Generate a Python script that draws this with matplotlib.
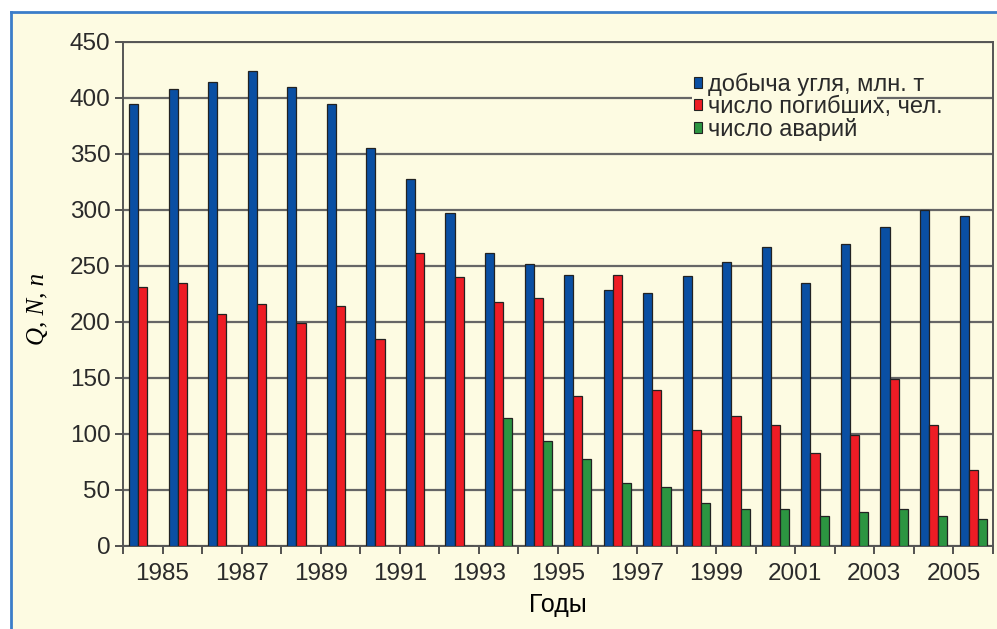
import numpy as np
import matplotlib
matplotlib.use('Agg')
import matplotlib.pyplot as plt
from matplotlib.patches import Rectangle

# coal output, fatalities and accidents per year (22 groups)
coal = [395, 408, 414, 424, 410, 395, 355, 328, 297, 262, 252,
        242, 229, 226, 241, 254, 267, 235, 270, 285, 300, 295]
deaths = [231, 235, 207, 216, 199, 214, 185, 262, 240, 218, 221,
          134, 242, 139, 104, 116, 108, 83, 99, 149, 108, 68]
accidents = [0, 0, 0, 0, 0, 0, 0, 0, 0, 114, 94,
             78, 56, 53, 38, 33, 33, 27, 30, 33, 27, 24]
tick_years = ['1985', '1987', '1989', '1991', '1993', '1995',
              '1997', '1999', '2001', '2003', '2005']
series_names = ['добыча угля, млн. т', 'число погибших, чел.', 'число аварий']

bg = '#FDFBE2'
txt = '#2a2a2a'
plt.rcParams['font.family'] = ['Liberation Sans', 'DejaVu Sans']
plt.rcParams['text.color'] = txt
plt.rcParams['xtick.color'] = '#444444'
plt.rcParams['ytick.color'] = '#444444'
plt.rcParams['xtick.labelcolor'] = txt
plt.rcParams['ytick.labelcolor'] = txt

W, H = 997, 629
fig = plt.figure(figsize=(W / 100, H / 100), dpi=100)
fig.patch.set_facecolor('white')

# cream panel with blue frame on top and left
fig.add_artist(Rectangle((11 / W, 0), 1, 1 - 12 / H, transform=fig.transFigure,
                         facecolor=bg, edgecolor='none', zorder=-10))
fig.add_artist(plt.Line2D([11 / W, 1], [1 - 12 / H, 1 - 12 / H], color='#3B7DC9', lw=2, zorder=-5))
fig.add_artist(plt.Line2D([11 / W, 11 / W], [0, 1 - 12 / H], color='#3B7DC9', lw=2, zorder=-5))

left, right, top, bottom = 123, 993, 42, 546
ax = fig.add_axes([left / W, 1 - bottom / H, (right - left) / W, (bottom - top) / H])
ax.set_facecolor(bg)

n = len(coal)
x = np.arange(n) + 0.5
bw = 0.23
colors = ['#0A4FA3', '#EE1C25', '#2C9541']
for k, (vals, c, name) in enumerate(zip([coal, deaths, accidents], colors, series_names)):
    ax.bar(x + (k - 1) * bw, vals, width=bw, color=c, edgecolor='#222222',
           linewidth=0.9, label=name, zorder=3)

ax.set_xlim(0, n)
ax.set_ylim(0, 450)
ax.set_yticks(np.arange(0, 451, 50))
ax.set_xticks(np.arange(0, n + 1))
ax.set_xticklabels([''] + [tick_years[(i - 1) // 2] if i % 2 == 1 else '' for i in range(1, n + 1)])
ax.tick_params(axis='both', labelsize=17.5, length=6, width=1.3, direction='out')
ax.tick_params(axis='x', pad=6)
ax.tick_params(axis='y', pad=3)

ax.yaxis.grid(True, color='#666666', lw=1.6, zorder=1)
ax.set_axisbelow(True)
for s in ['left', 'bottom', 'right', 'top']:
    ax.spines[s].set_color('#555555')
    ax.spines[s].set_linewidth(1.4)

ax.set_xlabel('Годы', fontsize=18, labelpad=6)
ax.set_ylabel('Q, N, n', fontsize=18, family='Liberation Serif', style='italic', labelpad=14)
ax.yaxis.set_label_coords(-0.085, 0.47)

# legend area hides the grid behind it
ax.add_patch(Rectangle((692 / W, 1 - 146 / H), (877 - 692) / W, (146 - 74) / H,
                       transform=fig.transFigure, facecolor=bg, edgecolor='none', zorder=2))
leg = ax.legend(loc='upper left', bbox_to_anchor=(694 / W, 1 - 73 / H),
                bbox_transform=fig.transFigure, frameon=False, fontsize=17,
                handlelength=0.35, handleheight=0.35, handletextpad=0.25,
                labelspacing=0.0, borderpad=0, borderaxespad=0)
for h in leg.legend_handles:
    h.set_linewidth(0.8)

fig.savefig('out.png', dpi=100, facecolor='white')
